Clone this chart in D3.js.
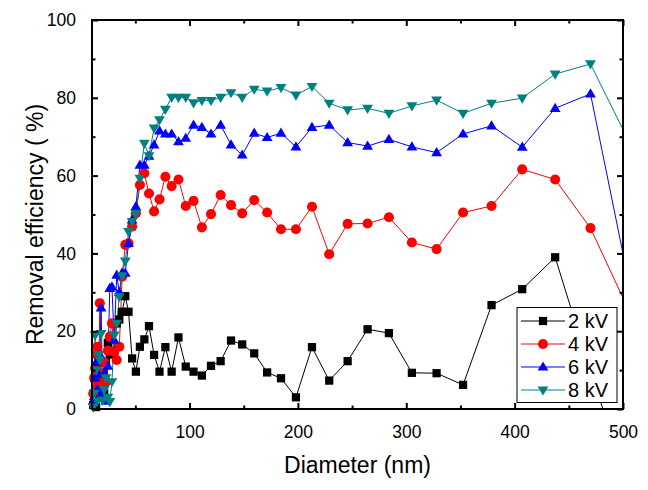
<!DOCTYPE html>
<html>
<head>
<meta charset="utf-8">
<script src="https://cdn.jsdelivr.net/npm/d3@7"></script>
<style>
  html, body { margin: 0; padding: 0; background: #fff; }
  svg { display: block; }
  text { font-family: "Liberation Sans", Arial, sans-serif; fill: #000; }
</style>
</head>
<body>
<svg id="chart" width="648" height="490"></svg>
<script>
// ---- data ----
const diameters = [11.1, 12.0, 12.9, 13.8, 14.9, 16.0, 17.2, 18.4, 19.8, 21.3, 22.9, 24.6, 26.4, 28.4, 30.5, 32.8, 35.2, 37.8, 40.7, 43.7, 47.0, 50.5, 54.2, 58.3, 62.6, 67.3, 72.3, 77.7, 83.5, 89.8, 96.5, 103.7, 111.4, 119.8, 128.7, 138.3, 148.6, 159.7, 171.6, 184.4, 198.2, 213.0, 228.9, 245.9, 264.3, 284.0, 305.2, 328.0, 352.4, 378.7, 407.0, 437.4, 470.0, 505.1];

const kv2 = [1, 2, 4, 0.5, 9, 3, 12, 6, 9, 4, 12, 17, 14, 18, 15, 22, 23, 25, 29, 25, 13.0, 9.6, 16.0, 17.9, 21.3, 13.9, 9.6, 15.9, 9.6, 18.4, 10.9, 9.6, 8.6, 11.1, 12.3, 17.6, 16.6, 14.3, 9.4, 7.9, 3.0, 15.9, 7.3, 12.3, 20.5, 19.5, 9.3, 9.2, 6.2, 26.7, 30.8, 39.0, 9.7, -20];

const kv4 = [4, 8, 10.5, 14, 16, 6, 27.2, 9, 3, 12, 7, 15, 18.6, 22, 14.7, 12.6, 16, 34, 42.2, 42.6, 46.9, 50.3, 57.6, 60.6, 55.4, 50.8, 53.9, 59.7, 57.3, 59.0, 52.2, 53.5, 46.7, 50.1, 55.0, 52.4, 50.3, 53.7, 50.5, 46.2, 46.2, 52.0, 39.8, 47.6, 47.7, 49.3, 42.8, 41.1, 50.5, 52.2, 61.6, 59.0, 46.5, 25.5];

const kv6 = [2, 3.2, 7.9, 12, 5, 9, 14, 26, 4, 9, 2, 11, 31, 31.4, 17.7, 34.4, 30, 35, 34.9, 42.6, 48.6, 52, 62.7, 62.7, 65, 67.9, 71.5, 70.7, 70.7, 68.7, 69.6, 73.0, 72.4, 70.7, 73.0, 67.9, 65.3, 70.9, 69.8, 70.9, 67.4, 72.4, 73.0, 68.5, 67.6, 69.3, 67.4, 65.9, 70.7, 72.8, 67.3, 77.3, 81.0, 33];

const kv8 = [0.5, 4, 19, 10, 2, 14, 12.6, 19.4, 2.3, 5, 8, 3, 1.9, 7, 19, 22, 28.9, 34.2, 38, 45.6, 48.2, 50.3, 59.3, 68.3, 65.1, 72.2, 74.3, 77.0, 80.1, 80.1, 80.1, 78.7, 79.3, 79.3, 80.1, 81.3, 80.1, 82.2, 81.7, 82.6, 80.7, 82.9, 78.6, 76.9, 77.3, 76.0, 77.9, 79.4, 76.0, 78.6, 79.9, 86.1, 88.7, 69];

const seriesNames = ["2 kV", "4 kV", "6 kV", "8 kV"];
const seriesValues = [kv2, kv4, kv6, kv8];
const seriesColors = ["#000000", "#ff0000", "#0000ff", "#008080"];
const seriesShapes = ["square", "circle", "triangleUp", "triangleDown"];

const xMajorTicks = [100, 200, 300, 400, 500];
const xMinorTicks = [50, 150, 250, 350, 450];
const yMajorTicks = [0, 20, 40, 60, 80, 100];
const yMinorTicks = [10, 30, 50, 70, 90];

const xTitle = "Diameter (nm)";
const yTitle = "Removal efficiency ( %)";

// ---- layout ----
const L = 92, R = 623, T = 20, B = 409;
const svg = d3.select("#chart");
svg.append("rect").attr("width", 648).attr("height", 490).attr("fill", "#fff");

const x = d3.scaleLinear().domain([10, 500]).range([L, R]);
const y = d3.scaleLinear().domain([0, 100]).range([B, T]);

const defs = svg.append("defs");
defs.append("clipPath").attr("id", "clipLines")
  .append("rect").attr("x", L).attr("y", T).attr("width", R - L).attr("height", B - T);
defs.append("clipPath").attr("id", "clipMarks")
  .append("rect").attr("x", L - 7).attr("y", T).attr("width", R - L + 7).attr("height", B - T + 7);

const series = seriesNames.map((name, i) => ({
  name, color: seriesColors[i], shape: seriesShapes[i],
  points: diameters.map((d, j) => ({ d, v: seriesValues[i][j] }))
}));

function symbolPath(shape) {
  if (shape === "square") return d3.symbol().type(d3.symbolSquare).size(68)();
  if (shape === "circle") return d3.symbol().type(d3.symbolCircle).size(80)();
  if (shape === "triangleUp") return "M0,-5.6L5.4,3.6L-5.4,3.6Z";
  return "M0,5.6L5.4,-3.6L-5.4,-3.6Z";
}

const line = d3.line().x(p => x(p.d)).y(p => y(p.v));

const gLines = svg.append("g").attr("clip-path", "url(#clipLines)");
const gMarks = svg.append("g").attr("clip-path", "url(#clipMarks)");

series.forEach(s => {
  gLines.append("path").datum(s.points)
    .attr("d", line).attr("fill", "none")
    .attr("stroke", s.color).attr("stroke-width", 1);
});
series.forEach(s => {
  gMarks.append("g").selectAll("path").data(s.points).join("path")
    .attr("transform", p => `translate(${x(p.d)},${y(p.v)})`)
    .attr("d", symbolPath(s.shape))
    .attr("fill", s.color);
});

// ---- axes ----
function styleAxis(g) {
  g.select(".domain").remove();
  g.selectAll(".tick line").attr("stroke", "#000").attr("stroke-width", 2);
  g.selectAll(".tick text").attr("font-size", "17.5px").attr("font-family", "Liberation Sans, Arial, sans-serif").attr("fill", "#000");
}
// bottom
svg.append("g").attr("transform", `translate(0,${B})`)
  .call(d3.axisBottom(x).tickValues(xMajorTicks).tickSize(-6).tickPadding(17).tickFormat(d3.format("d")))
  .call(styleAxis);
svg.append("g").attr("transform", `translate(0,${B})`)
  .call(d3.axisBottom(x).tickValues(xMinorTicks).tickSize(-3.5).tickFormat(""))
  .call(styleAxis);
// top
svg.append("g").attr("transform", `translate(0,${T})`)
  .call(d3.axisTop(x).tickValues(xMajorTicks).tickSize(-6).tickFormat(""))
  .call(styleAxis);
svg.append("g").attr("transform", `translate(0,${T})`)
  .call(d3.axisTop(x).tickValues(xMinorTicks).tickSize(-3.5).tickFormat(""))
  .call(styleAxis);
// left
svg.append("g").attr("transform", `translate(${L},0)`)
  .call(d3.axisLeft(y).tickValues(yMajorTicks).tickSize(-6).tickPadding(16).tickFormat(d3.format("d")))
  .call(styleAxis);
svg.append("g").attr("transform", `translate(${L},0)`)
  .call(d3.axisLeft(y).tickValues(yMinorTicks).tickSize(-3.5).tickFormat(""))
  .call(styleAxis);
// right
svg.append("g").attr("transform", `translate(${R},0)`)
  .call(d3.axisRight(y).tickValues(yMajorTicks).tickSize(-6).tickFormat(""))
  .call(styleAxis);
svg.append("g").attr("transform", `translate(${R},0)`)
  .call(d3.axisRight(y).tickValues(yMinorTicks).tickSize(-3.5).tickFormat(""))
  .call(styleAxis);

svg.append("rect").attr("x", L).attr("y", T).attr("width", R - L).attr("height", B - T)
  .attr("fill", "none").attr("stroke", "#000").attr("stroke-width", 2);

// titles
svg.append("text").attr("x", (L + R) / 2).attr("y", 473)
  .attr("text-anchor", "middle").attr("font-size", "23px").text(xTitle);
svg.append("text").attr("transform", `translate(43,${(T + B) / 2 + 10}) rotate(-90)`)
  .attr("text-anchor", "middle").attr("font-size", "23px").text(yTitle);

// ---- legend ----
const lg = svg.append("g");
lg.append("rect").attr("x", 517).attr("y", 307.5).attr("width", 100).attr("height", 95)
  .attr("fill", "#fff").attr("stroke", "#000").attr("stroke-width", 1);
series.forEach((s, i) => {
  const yy = 321 + i * 23;
  lg.append("line").attr("x1", 521).attr("x2", 565).attr("y1", yy).attr("y2", yy)
    .attr("stroke", s.color).attr("stroke-width", 1);
  lg.append("path").attr("transform", `translate(543,${yy})`).attr("d", symbolPath(s.shape)).attr("fill", s.color);
  lg.append("text").attr("x", 568).attr("y", yy + 7).attr("font-size", "20px").text(s.name);
});
</script>
</body>
</html>
